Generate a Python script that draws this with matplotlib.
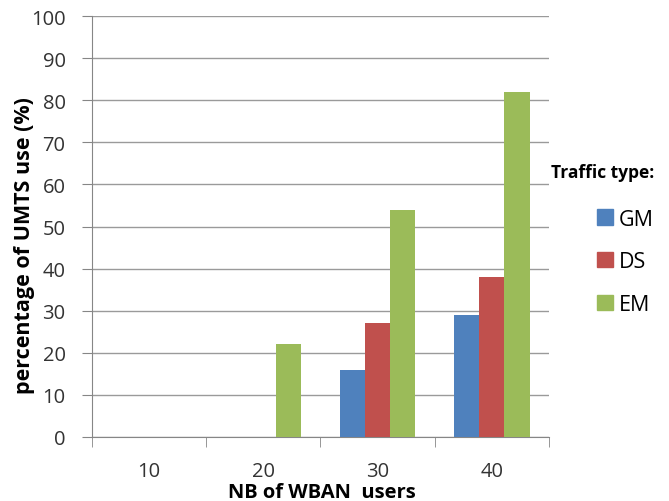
import numpy as np
import matplotlib.pyplot as plt
from matplotlib.patches import Patch

# Data
users = ['10', '20', '30', '40']
gm = [0, 0, 16, 29]
ds = [0, 0, 27, 38]
em = [0, 22, 54, 82]
series_names = ['GM', 'DS', 'EM']
colors = ['#4F81BD', '#C0504D', '#9BBB59']

plt.rcParams['font.family'] = ['Open Sans', 'DejaVu Sans']

fig = plt.figure(figsize=(6.69, 5.02), dpi=100)
ax = fig.add_axes([0.1375, 0.1275, 0.6831, 0.8386])

x = np.arange(len(users))
w = 0.22
for i, (vals, c) in enumerate(zip([gm, ds, em], colors)):
    ax.bar(x + (i - 1) * w, vals, width=w, color=c, zorder=3)

ax.set_xlim(-0.5, len(users) - 0.5)
ax.set_ylim(0, 100)
ax.set_yticks(range(0, 101, 10))
ax.set_xticks(x)
ax.set_xticklabels(users)
ax.set_xticks(np.arange(-0.5, len(users)), minor=True)
ax.tick_params(axis='x', which='major', length=0, pad=17, labelsize=14.5, colors='#333333')
ax.tick_params(axis='x', which='minor', length=7, color='#868686', direction='out')
ax.tick_params(axis='y', length=7, color='#868686', labelsize=14.5, colors='#333333', pad=12)
ax.grid(axis='y', color='#9a9a9a', linewidth=1, zorder=0)

for s in ['top', 'right']:
    ax.spines[s].set_visible(False)
for s in ['left', 'bottom']:
    ax.spines[s].set_color('#868686')

ax.set_ylabel('percentage of UMTS use (%)', fontsize=15.5, fontweight='bold', va='center')
ax.yaxis.set_label_coords(-0.147, 0.458)
ax.set_xlabel('NB of WBAN  users', fontsize=14.5, fontweight='bold', va='top')
ax.xaxis.set_label_coords(0.502, -0.106)

handles = [Patch(color=c, label=n) for n, c in zip(series_names, colors)]
leg = fig.legend(handles=handles, loc='upper right', bbox_to_anchor=(0.994, 0.695),
                 frameon=False, fontsize=15.5, title='Traffic type:', borderpad=0,
                 title_fontproperties={'weight': 'bold', 'size': 12.5},
                 handlelength=0.72, handleheight=0.72, handletextpad=0.3,
                 labelspacing=1.0)
leg._legend_box.align = 'right'
leg._legend_box.sep = 20

fig.savefig('out.png', dpi=100)
